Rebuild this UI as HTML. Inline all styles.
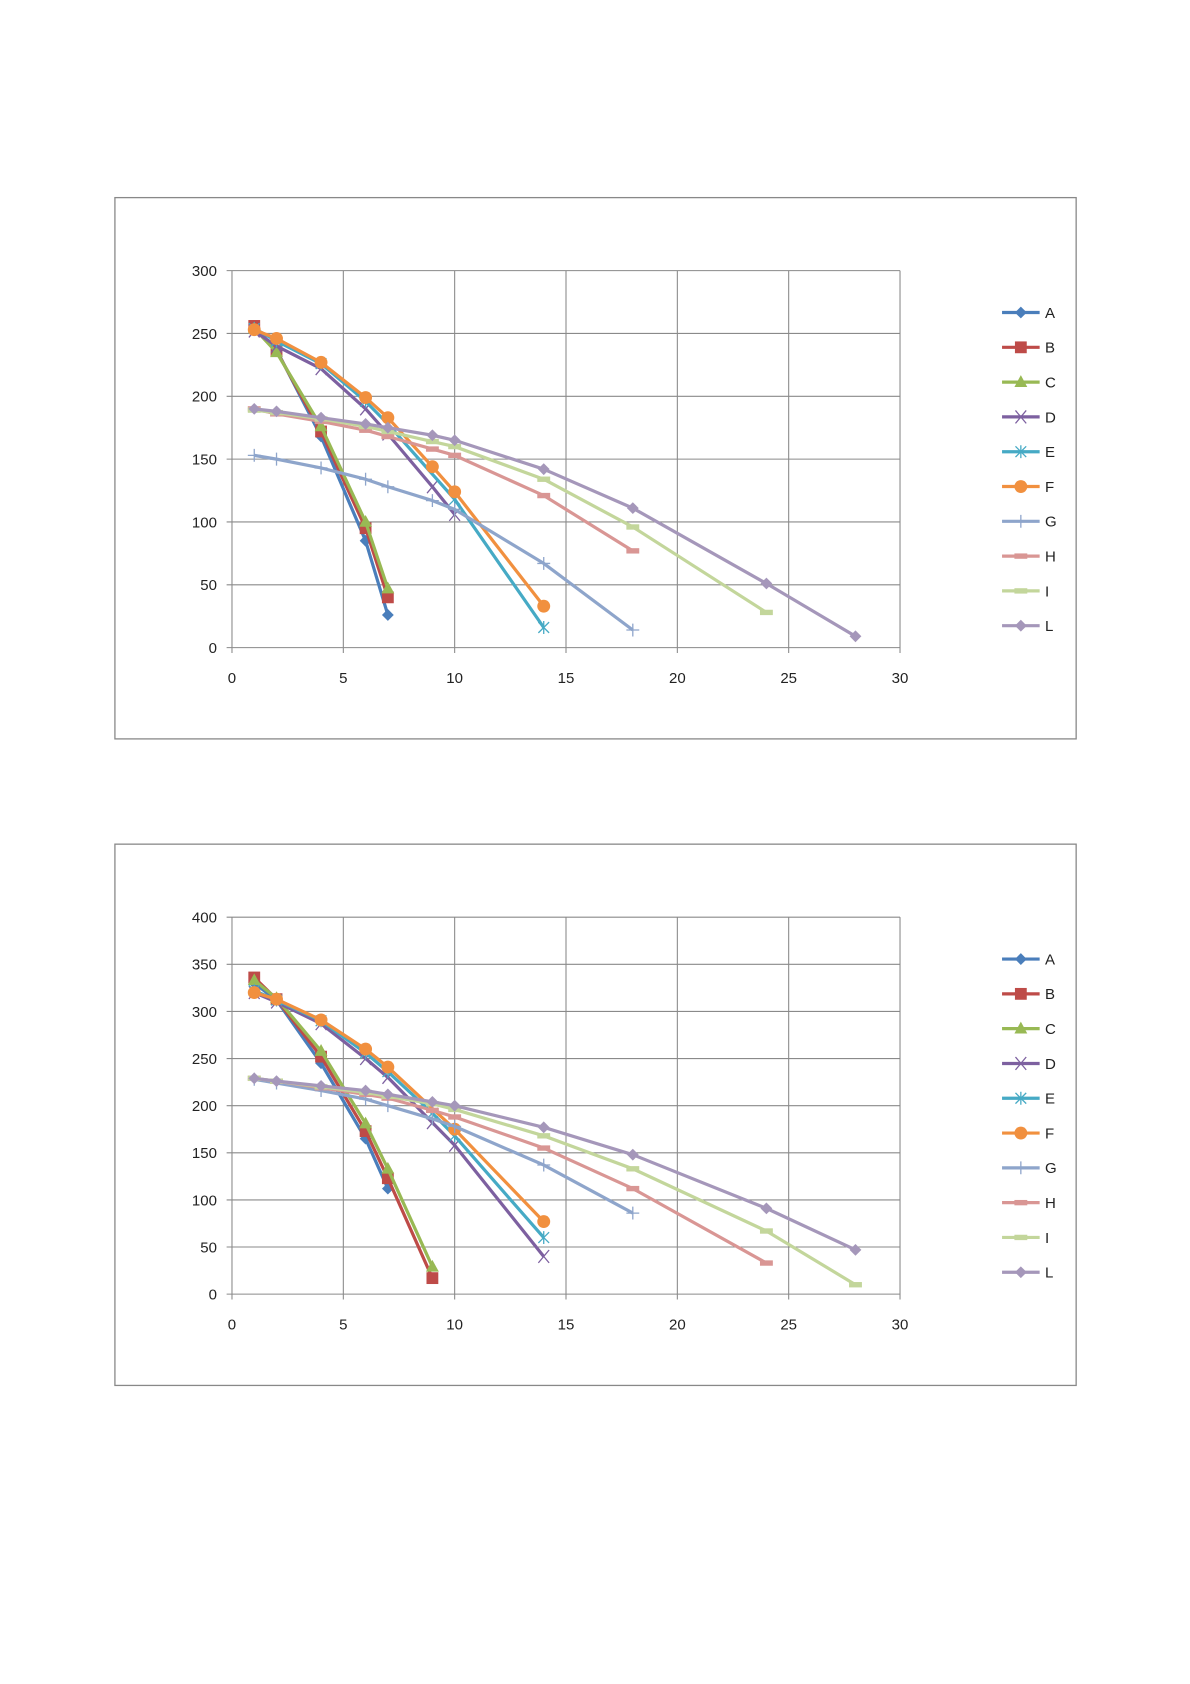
<!DOCTYPE html>
<html><head><meta charset="utf-8"><style>
html,body{margin:0;padding:0;background:#fff;}
svg{display:block;}
text{font-family:"Liberation Sans",sans-serif;font-size:14px;fill:#222;}
</style></head><body>
<svg id="s" width="1190" height="1684" viewBox="0 0 1108 1568" preserveAspectRatio="none" xmlns="http://www.w3.org/2000/svg"></svg>
<script>
const NS="http://www.w3.org/2000/svg";
const svg=document.getElementById('s');
function el(t,a,txt){const e=document.createElementNS(NS,t);for(const k in a)e.setAttribute(k,a[k]);if(txt!==undefined)e.textContent=txt;svg.appendChild(e);return e;}
const S=[
["A","#4A7EBB","diamond"],["B","#BE4B48","square"],["C","#98B954","tri"],["D","#7D60A0","x"],
["E","#46AAC5","star"],["F","#F1903F","circle"],["G","#8EA5CB","plus"],["H","#D99694","dash"],
["I","#C3D69B","dash"],["L","#A597BA","diamond"]];
const D1=[
[[1,255],[2,237],[4,168],[6,85],[7,26]],
[[1,256],[2,236],[4,172],[6,95],[7,40]],
[[1,254],[2,235],[4,176],[6,100],[7,47]],
[[1,252],[2,240],[4,222],[6,190],[7,170],[9,128],[10,106]],
[[1,254],[2,244],[4,226],[6,196],[7,178],[10,118],[14,16]],
[[1,253],[2,246],[4,227],[6,199],[7,183],[9,144],[10,124],[14,33]],
[[1,153],[2,150],[4,143],[6,134],[7,128],[9,117],[10,110],[14,67],[18,14]],
[[1,190],[2,186],[4,180],[6,173],[7,168],[9,158],[10,153],[14,121],[18,77]],
[[1,189],[2,187],[4,182],[6,176],[7,172],[9,164],[10,160],[14,134],[18,96],[24,28]],
[[1,190],[2,188],[4,183],[6,178],[7,175],[9,169],[10,165],[14,142],[18,111],[24,51],[28,9]]];
const D2=[
[[1,330],[2,312],[4,245],[6,165],[7,112]],
[[1,336],[2,313],[4,252],[6,173],[7,123],[9,17]],
[[1,333],[2,314],[4,258],[6,181],[7,133],[9,29]],
[[1,320],[2,310],[4,287],[6,250],[7,230],[9,182],[10,158],[14,40]],
[[1,322],[2,312],[4,290],[6,256],[7,236],[9,192],[10,168],[14,60]],
[[1,320],[2,313],[4,291],[6,260],[7,241],[10,175],[14,77]],
[[1,228],[2,224],[4,216],[6,207],[7,200],[9,186],[10,178],[14,137],[18,86]],
[[1,229],[2,226],[4,219],[6,212],[7,208],[9,195],[10,188],[14,155],[18,112],[24,33]],
[[1,229],[2,226],[4,220],[6,214],[7,210],[9,202],[10,196],[14,168],[18,133],[24,67],[28,10]],
[[1,229],[2,226],[4,221],[6,216],[7,212],[9,204],[10,200],[14,177],[18,148],[24,91],[28,47]]];
function marker(x,y,type,c){
 const r=5.5;
 if(type=="diamond")el('polygon',{points:`${x},${y-r} ${x+r},${y} ${x},${y+r} ${x-r},${y}`,fill:c});
 else if(type=="square")el('rect',{x:x-5.5,y:y-5.5,width:11,height:11,fill:c});
 else if(type=="tri")el('polygon',{points:`${x},${y-6.5} ${x+6},${y+4.5} ${x-6},${y+4.5}`,fill:c});
 else if(type=="circle")el('circle',{cx:x,cy:y,r:6,fill:c});
 else if(type=="x")el('path',{d:`M${x-5} ${y-6}L${x+5} ${y+6}M${x+5} ${y-6}L${x-5} ${y+6}`,stroke:c,'stroke-width':1.2,fill:'none'});
 else if(type=="star")el('path',{d:`M${x-5} ${y-5}L${x+5} ${y+5}M${x+5} ${y-5}L${x-5} ${y+5}M${x} ${y-6}L${x} ${y+6}`,stroke:c,'stroke-width':1.2,fill:'none'});
 else if(type=="plus")el('path',{d:`M${x-6} ${y}L${x+6} ${y}M${x} ${y-6}L${x} ${y+6}`,stroke:c,'stroke-width':1.2,fill:'none'});
 else if(type=="dash")el('rect',{x:x-6,y:y-2.5,width:12,height:5,fill:c});
}
function chart(top,ymax,data){
 const bx0=107,bx1=1002,by0=top,by1=top+504;
 el('rect',{x:bx0,y:by0,width:bx1-bx0,height:by1-by0,fill:'#fff',stroke:'#888','stroke-width':1.2});
 const px0=216,px1=838,py0=top+68,py1=top+419;
 const X=v=>px0+(px1-px0)*v/30, Y=v=>py1-(py1-py0)*v/ymax;
 for(let v=0;v<=ymax;v+=50){el('line',{x1:px0-5,x2:px1,y1:Y(v),y2:Y(v),stroke:'#8a8a8a','stroke-width':1});
  el('text',{x:px0-14,y:Y(v)+5,'text-anchor':'end'},String(v));}
 for(let v=0;v<=30;v+=5){el('line',{x1:X(v),x2:X(v),y1:py0,y2:py1+5,stroke:'#8a8a8a','stroke-width':1});
  el('text',{x:X(v),y:py1+33,'text-anchor':'middle'},String(v));}
 data.forEach((d,i)=>{const c=S[i][1];
  el('polyline',{points:d.map(p=>X(p[0])+','+Y(p[1])).join(' '),fill:'none',stroke:c,'stroke-width':3,'stroke-linejoin':'round'});
  d.forEach(p=>marker(X(p[0]),Y(p[1]),S[i][2],c));});
 S.forEach((s,i)=>{const y=top+107+i*32.4;
  el('line',{x1:933,x2:968,y1:y,y2:y,stroke:s[1],'stroke-width':3});
  marker(950.5,y,s[2],s[1]);
  el('text',{x:973,y:y+5},s[0]);});
}
chart(184,300,D1);
chart(786,400,D2);
</script>
</body></html>
